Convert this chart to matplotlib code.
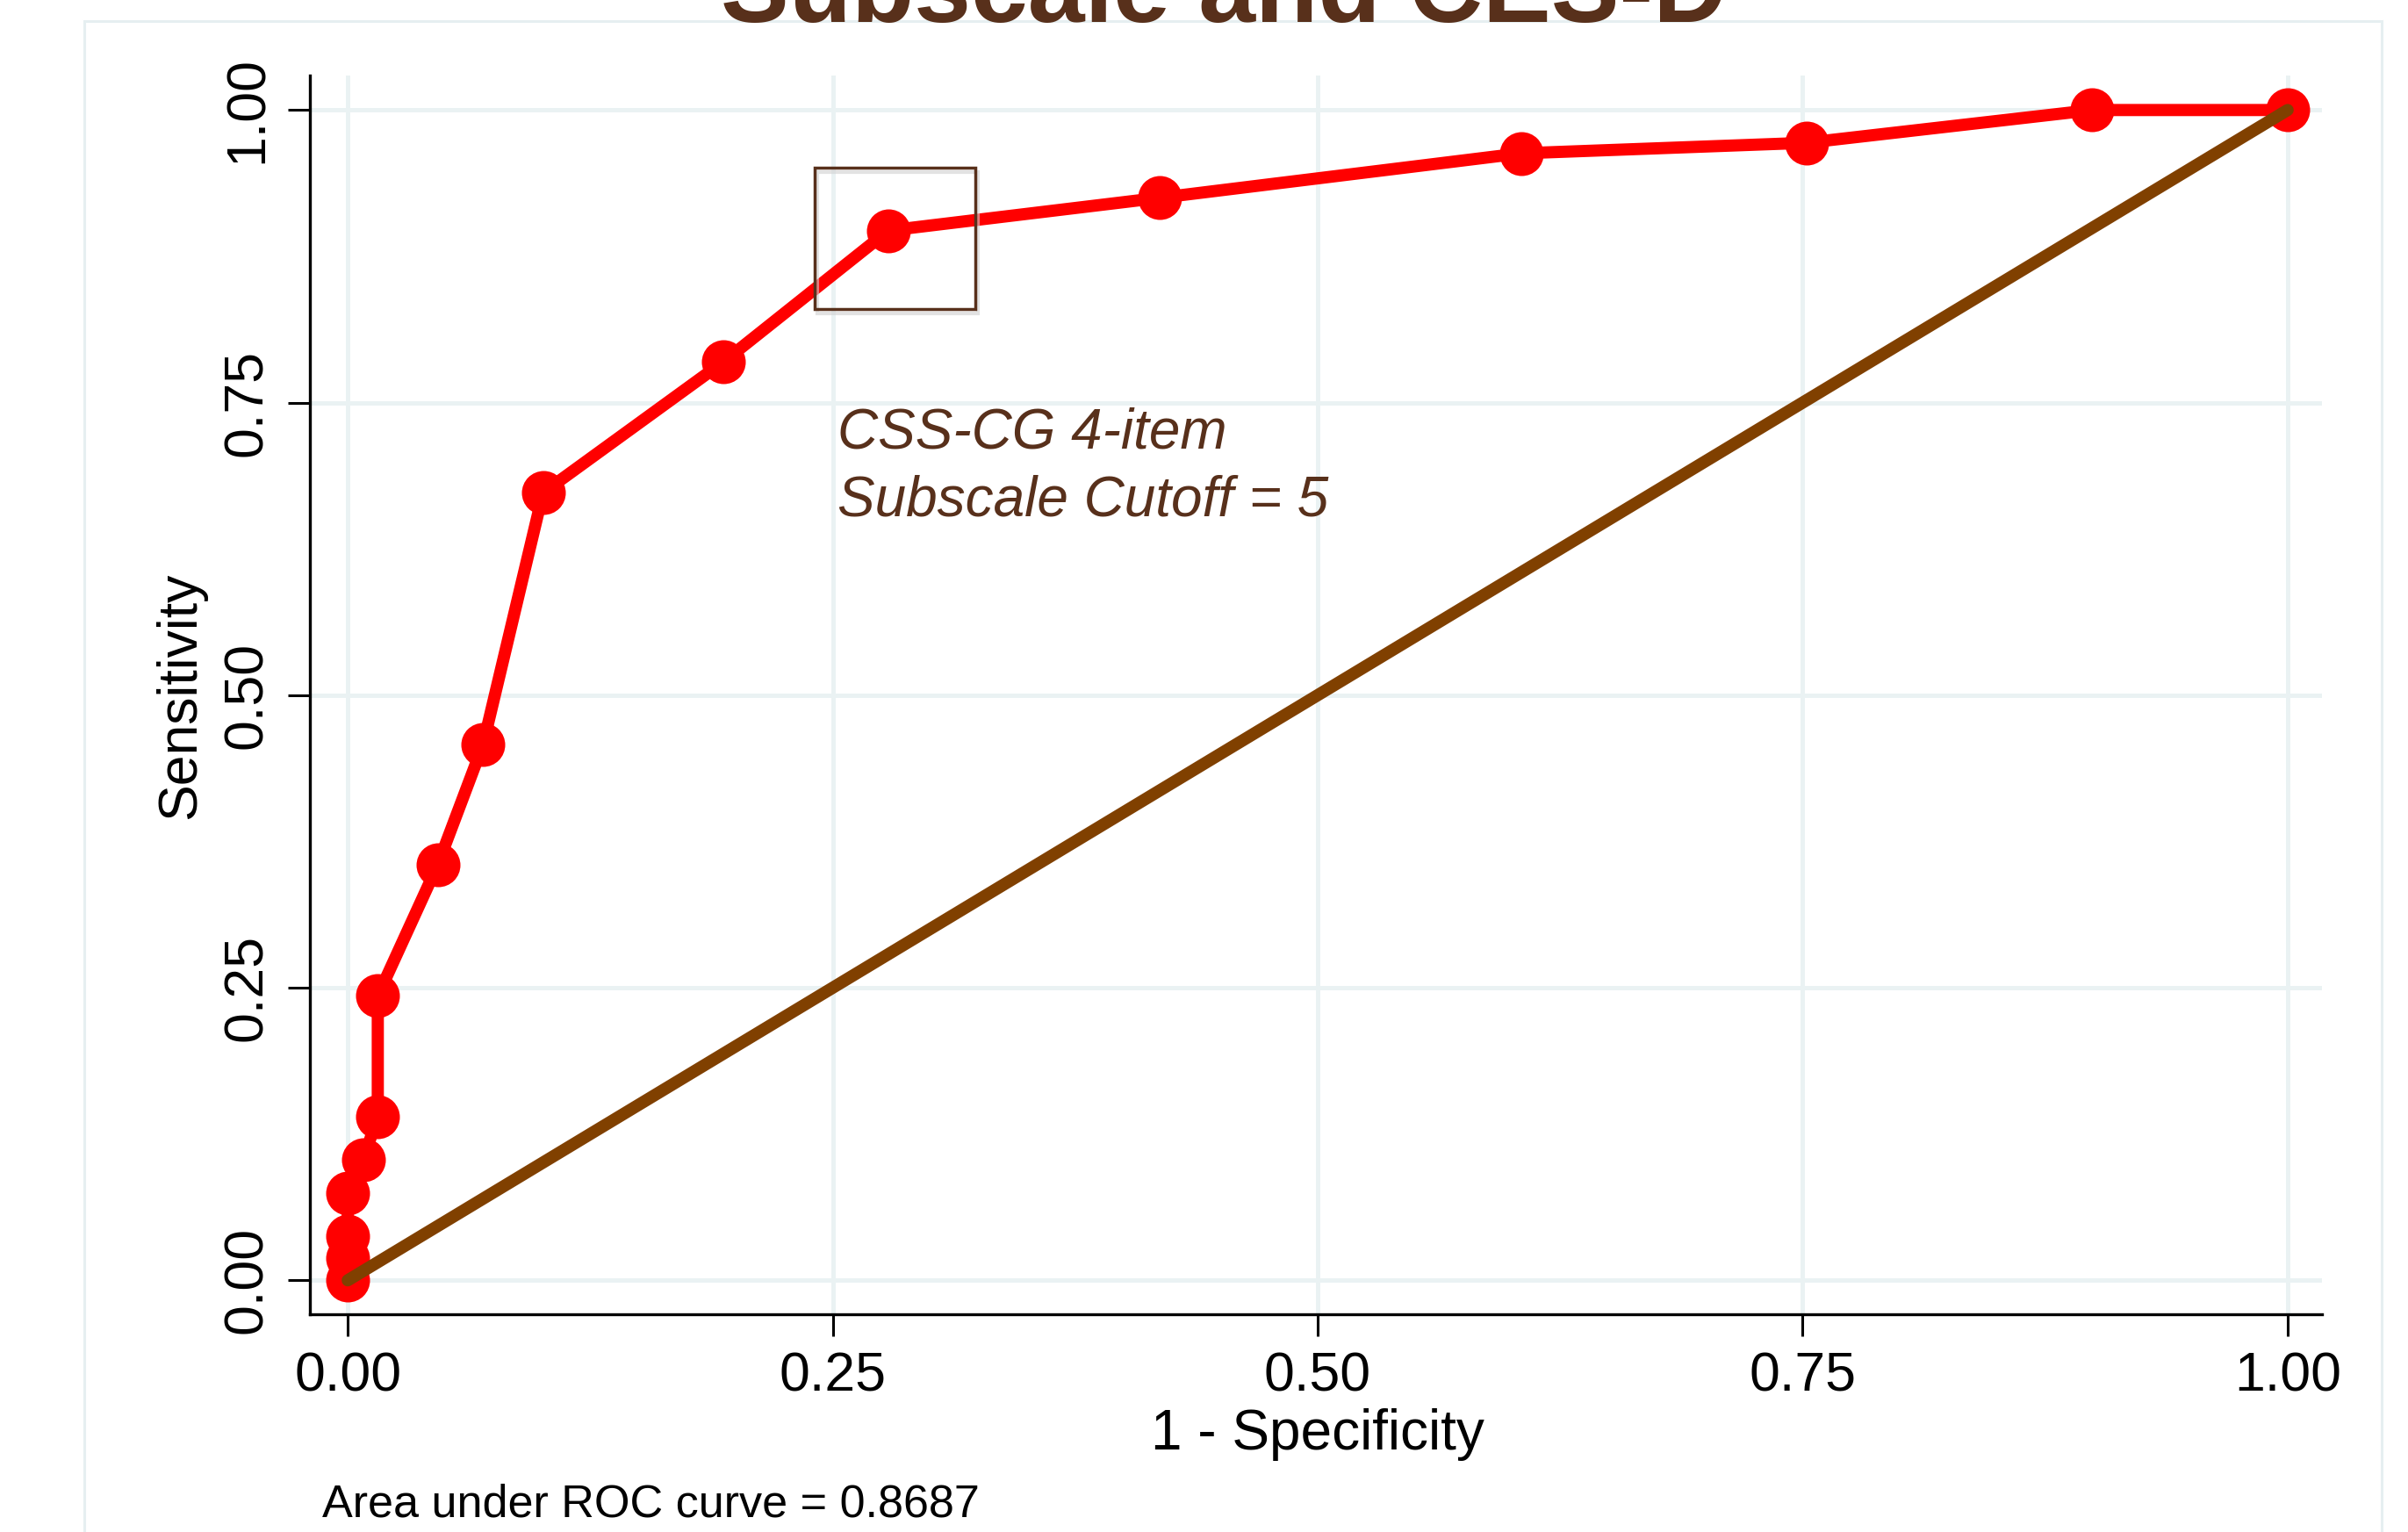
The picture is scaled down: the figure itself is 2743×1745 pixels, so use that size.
import matplotlib
matplotlib.use("Agg")
import matplotlib.pyplot as plt
from matplotlib.patches import Rectangle

plt.rcParams['font.family'] = ['Liberation Sans', 'DejaVu Sans']

# ---- data ----
fpr = [0.0, 0.0, 0.0, 0.0, 0.008, 0.0155, 0.0155, 0.0464, 0.0698, 0.1007,
       0.1938, 0.2787, 0.4186, 0.6048, 0.752, 0.8993, 1.0]
sens = [0.0, 0.0187, 0.0374, 0.0748, 0.103, 0.140, 0.243, 0.355, 0.458, 0.673,
        0.785, 0.897, 0.925, 0.963, 0.972, 1.0, 1.0]
ref_x = [0.0, 1.0]
ref_y = [0.0, 1.0]
ticks = [0.0, 0.25, 0.5, 0.75, 1.0]
tick_labels = ["0.00", "0.25", "0.50", "0.75", "1.00"]
cutoff_box = (0.2407, 0.830, 0.0828, 0.121)   # x, y, w, h in data units
title_text = "Subscale and CES-D"
annot_text = "CSS-CG 4-item\nSubscale Cutoff = 5"
auc_text = "Area under ROC curve = 0.8687"

BROWN_TXT = '#58301B'
GRID = '#EAF2F3'

W, H = 2743, 1745
fig = plt.figure(figsize=(W / 100, H / 100), dpi=100)
fig.patch.set_facecolor('white')

# outer graph-region frame
fig.patches.append(Rectangle((96 / W, -0.02), (2713 - 96) / W, 0.02 + 1 - 24 / H,
                             transform=fig.transFigure, fill=False,
                             edgecolor='#E6EFF1', linewidth=2.2, zorder=0))

ax = fig.add_axes([353 / W, 1 - 1497 / H, (2645 - 353) / W, (1497 - 86) / H])
ax.set_xlim(-0.0195, 1.0177)
ax.set_ylim(-0.029, 1.0295)

for s in ['top', 'right']:
    ax.spines[s].set_visible(False)
for s in ['left', 'bottom']:
    ax.spines[s].set_linewidth(2.4)
    ax.spines[s].set_color('black')

ax.set_xticks(ticks)
ax.set_xticklabels(tick_labels)
ax.set_yticks(ticks)
ax.set_yticklabels(tick_labels)
ax.tick_params(axis='both', length=18, width=2.2, labelsize=45, pad=12, color='black')
ax.tick_params(axis='y', labelrotation=90)
for lab in ax.get_yticklabels():
    lab.set_va('center')

ax.grid(True, color=GRID, linewidth=3.6)
ax.set_axisbelow(True)

# ROC curve
ax.plot(fpr, sens, color='#FF0000', linewidth=10, marker='o', markersize=36,
        markeredgewidth=0, solid_joinstyle='round', zorder=3)
# reference line
ax.plot(ref_x, ref_y, color='#804000', linewidth=10, solid_capstyle='round', zorder=4)

# cutoff box (with faint shadow)
bx, by, bw, bh = cutoff_box
ax.add_patch(Rectangle((bx + 0.0012, by - 0.004), bw, bh, fill=False,
                       edgecolor='#D0D0D0', linewidth=3, alpha=0.6, zorder=4))
ax.add_patch(Rectangle((bx, by), bw, bh, fill=False, edgecolor=BROWN_TXT,
                       linewidth=2.5, zorder=5))

# multi-line text: va='baseline' anchors the last line's baseline
ax.text(0.2524, 0.653, annot_text, fontsize=46, style='italic', color=BROWN_TXT,
        ha='left', va='baseline', linespacing=1.37, zorder=6)

ax.set_xlabel("1 - Specificity", fontsize=46, va='baseline')
ax.xaxis.set_label_coords(0.5007, -0.1091)
ax.set_ylabel("Sensitivity", fontsize=45, va='center')
ax.yaxis.set_label_coords(-0.0641, 0.4995)

fig.text(1394 / W, 1 - 25 / H, title_text, fontsize=84, fontweight='bold',
         color=BROWN_TXT, ha='center', va='baseline', zorder=10)
fig.text(367 / W, 1 - 1727 / H, auc_text, fontsize=37.5, ha='left', va='baseline')

fig.savefig("out.png", dpi=100, facecolor='white')
